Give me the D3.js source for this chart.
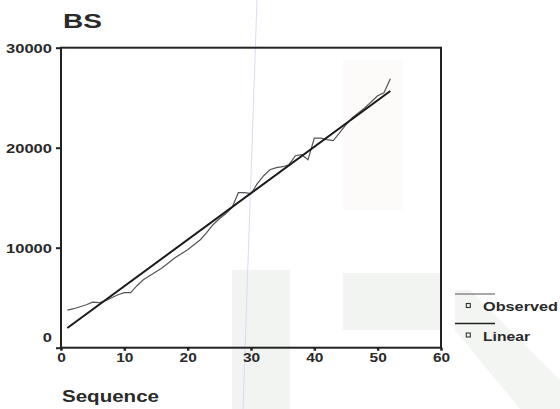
<!DOCTYPE html>
<html><head><meta charset="utf-8">
<script src="https://cdn.jsdelivr.net/npm/d3@7"></script>
<style>
html,body{margin:0;padding:0;background:#fff;}
svg{display:block;}
text{font-family:"Liberation Sans",Arial,sans-serif;font-weight:bold;fill:#2a2a2a;}
</style></head>
<body><svg id="c" width="560" height="409"></svg>
<script>
const title = "BS";
const xLabel = "Sequence";
const seqX = [1,2,3,4,5,6,7,8,9,10,11,12,13,14,15,16,17,18,19,20,21,22,23,24,25,26,27,28,29,30,31,32,33,34,35,36,37,38,39,40,41,42,43,44,45,46,47,48,49,50,51,52];
const observed = [3750,3900,4100,4300,4550,4500,4700,5000,5300,5500,5500,6200,6800,7200,7600,8000,8500,9000,9400,9800,10300,10800,11500,12300,12900,13400,14000,15500,15500,15400,16400,17200,17800,18000,18100,18300,19200,19300,18800,20950,20950,20800,20700,21500,22300,23000,23500,24000,24600,25200,25500,26900];
const linearX = [1,52];
const linearY = [1970,25670];
const xTicks = [0,10,20,30,40,50,60];
const yTicks = [0,10000,20000,30000];
const legendNames = ["Observed","Linear"];

const svg = d3.select("#c");
// faint scan watermark shapes
const bg = svg.append("g");
bg.append("rect").attr("x",232).attr("y",270).attr("width",58).attr("height",139).attr("fill","#f2f4f2");
bg.append("rect").attr("x",343).attr("y",273).attr("width",98).attr("height",57).attr("fill","#f2f4f2");
bg.append("path").attr("d","M455,290 L470,290 L560,380 L560,409 L520,409 L455,330 Z").attr("fill","#f3f5f3");
bg.append("rect").attr("x",343).attr("y",60).attr("width",60).attr("height",150).attr("fill","#fcfbf9");
bg.append("line").attr("x1",257).attr("y1",0).attr("x2",243).attr("y2",409).attr("stroke","#e0d6fa").attr("stroke-width",1);

const x = d3.scaleLinear().domain([0,60]).range([61,441]);
const y = d3.scaleLinear().domain([0,30000]).range([347.7,47.7]);

// frame
svg.append("rect").attr("x",x(0)).attr("y",y(30000)).attr("width",x(60)-x(0)).attr("height",y(0)-y(30000))
  .attr("fill","none").attr("stroke","#222").attr("stroke-width",2);

// y axis
const ya = svg.append("g").attr("transform",`translate(${x(0)},0)`)
  .call(d3.axisLeft(y).tickValues(yTicks).tickSize(5).tickFormat(d3.format("d")));
ya.select(".domain").remove();
ya.selectAll("line").attr("stroke","#222").attr("stroke-width",2);
ya.selectAll("text").attr("x",-9).attr("font-size",13).attr("fill","#2a2a2a")
  .attr("font-family","Liberation Sans, Arial, sans-serif").attr("font-weight","bold")
  .attr("textLength",d=>String(d).length*9.2).attr("lengthAdjust","spacingAndGlyphs")
  .attr("dy",d=>d===0?"-0.45em":"0.35em");

// x axis
const xa = svg.append("g").attr("transform",`translate(0,${y(0)})`)
  .call(d3.axisBottom(x).tickValues(xTicks).tickSize(3).tickFormat(d3.format("d")));
xa.select(".domain").remove();
xa.selectAll("line").attr("stroke","#222").attr("stroke-width",2.5);
xa.selectAll("text").attr("y",5).attr("font-size",13).attr("fill","#2a2a2a")
  .attr("font-family","Liberation Sans, Arial, sans-serif").attr("font-weight","bold")
  .attr("textLength",d=>String(d).length*8.6).attr("lengthAdjust","spacingAndGlyphs");

// lines
const lineGen = d3.line().x(d=>x(d[0])).y(d=>y(d[1]));
svg.append("path").datum(seqX.map((s,i)=>[s,observed[i]])).attr("d",lineGen)
  .attr("fill","none").attr("stroke","#555").attr("stroke-width",1.2);
svg.append("path").datum(linearX.map((s,i)=>[s,linearY[i]])).attr("d",lineGen)
  .attr("fill","none").attr("stroke","#1a1a1a").attr("stroke-width",2);

// title and axis label
svg.append("text").attr("x",63).attr("y",28).attr("font-size",21).text(title)
  .attr("textLength",39).attr("lengthAdjust","spacingAndGlyphs");
svg.append("text").attr("x",62).attr("y",402).attr("font-size",16).text(xLabel)
  .attr("textLength",97).attr("lengthAdjust","spacingAndGlyphs");

// legend
const lg = svg.append("g");
legendNames.forEach((n,i)=>{
  const ly = 294 + i*29.5;
  lg.append("line").attr("x1",455).attr("x2",495).attr("y1",ly).attr("y2",ly)
    .attr("stroke", i===0?"#555":"#222").attr("stroke-width", i===0?1.2:1.6);
  lg.append("rect").attr("x",466.3).attr("y",ly+9.5).attr("width",4).attr("height",4)
    .attr("fill","none").attr("stroke","#333").attr("stroke-width",1.1);
  lg.append("text").attr("x",483).attr("y",ly+17).attr("font-size",13).text(n)
    .attr("textLength", i===0?75:47).attr("lengthAdjust","spacingAndGlyphs");
});
</script></body></html>
